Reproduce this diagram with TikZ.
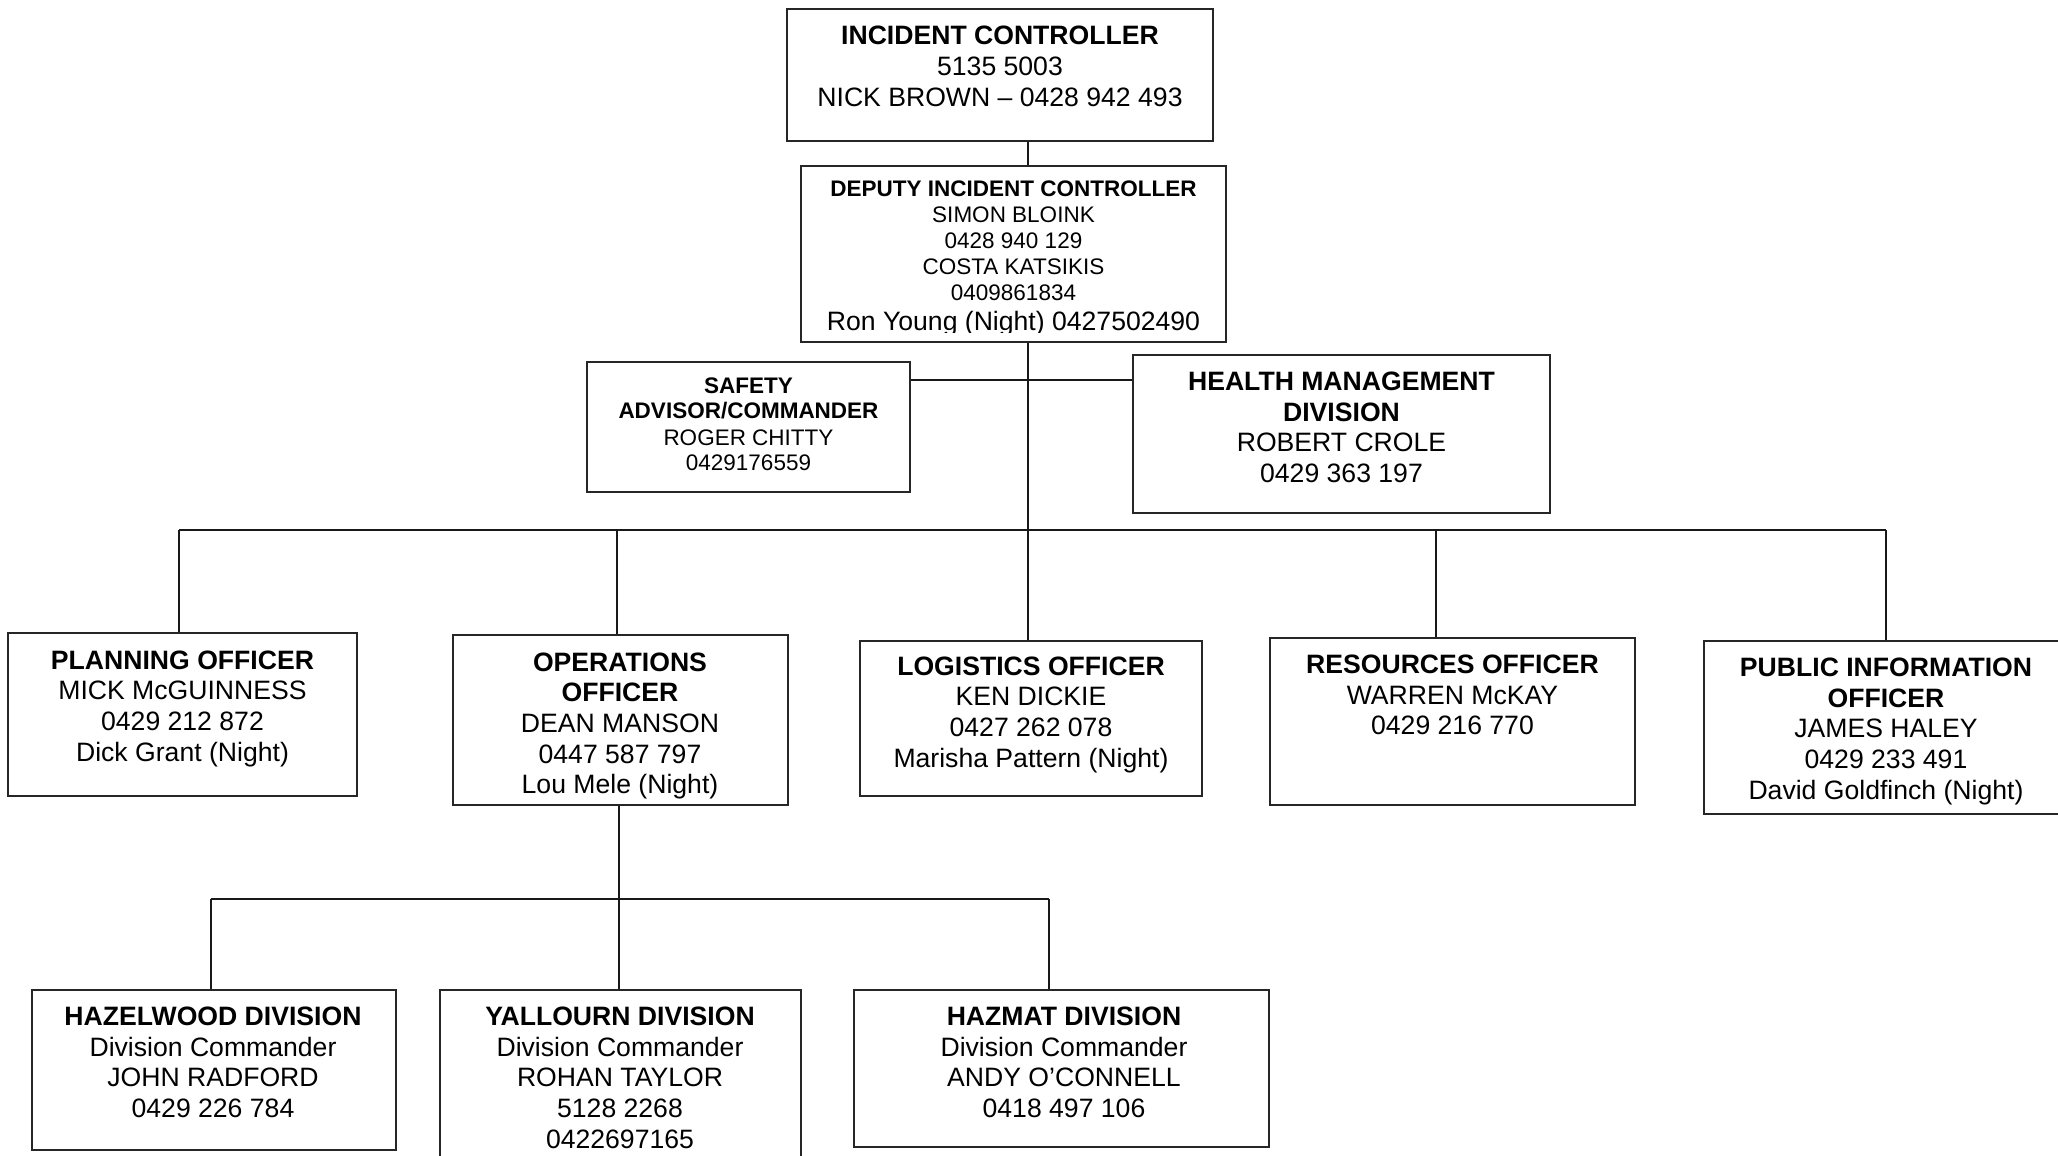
\documentclass[tikz,border=0pt]{standalone}
\usepackage{fontspec}
\setmainfont{Liberation Sans}
\usetikzlibrary{fit}
\begin{document}
\begin{tikzpicture}[x=0.5pt,y=-0.5pt,
  orgbox/.style={draw=black!85,line width=1pt,inner sep=0pt,rectangle},
  link/.style={draw=black!90,line width=1pt},
  bus/.style={draw=black!90,line width=1.2pt},
  bigtxt/.style={font=\fontsize{13.3}{15.35}\selectfont,inner sep=0pt,anchor=base},
  smalltxt/.style={font=\fontsize{11.25}{13}\selectfont,inner sep=0pt,anchor=base}]
\useasboundingbox (0,0) rectangle (2058,1156);

% boxes
\node[orgbox,fit={(787,9) (1213,141)}] (ic) {};
\node[orgbox,fit={(801,166) (1226,342)}] (dep) {};
\node[orgbox,fit={(587,362) (910,492)}] (saf) {};
\node[orgbox,fit={(1133,355) (1550,513)}] (hm) {};
\node[orgbox,fit={(8,633) (357,796)}] (plan) {};
\node[orgbox,fit={(453,635) (788,805)}] (ops) {};
\node[orgbox,fit={(860,641) (1202,796)}] (log) {};
\node[orgbox,fit={(1270,638) (1635,805)}] (res) {};
\node[orgbox,fit={(1704,641) (2070,814)}] (pub) {};
\node[orgbox,fit={(32,990) (396,1150)}] (haz) {};
\node[orgbox,fit={(440,990) (801,1175)}] (yal) {};
\node[orgbox,fit={(854,990) (1269,1147)}] (hzm) {};

% texts
\node[bigtxt] (ic-t) at (1000,45) {\begin{tabular}[t]{@{}c@{}}\textbf{INCIDENT CONTROLLER}\\5135 5003\\NICK BROWN – 0428 942 493\end{tabular}};
\node[smalltxt] (dep-t) at (1013.5,197) {\begin{tabular}[t]{@{}c@{}}\textbf{DEPUTY INCIDENT CONTROLLER}\\SIMON BLOINK\\0428 940 129\\COSTA KATSIKIS\\0409861834\end{tabular}};
\begin{scope}
\clip (801,166) rectangle (1226,332.5);
\node[bigtxt] (dep-n) at (1013.5,330.5) {Ron Young (Night) 0427502490};
\end{scope}
\node[smalltxt] (saf-t) at (748.5,393) {\begin{tabular}[t]{@{}c@{}}\textbf{SAFETY}\\\textbf{ADVISOR/COMMANDER}\\ROGER CHITTY\\0429176559\end{tabular}};
\node[bigtxt] (hm-t) at (1341.5,390.5) {\begin{tabular}[t]{@{}c@{}}\textbf{HEALTH MANAGEMENT}\\\textbf{DIVISION}\\ROBERT CROLE\\0429 363 197\end{tabular}};
\node[bigtxt] (plan-t) at (182.5,669) {\begin{tabular}[t]{@{}c@{}}\textbf{PLANNING OFFICER}\\MICK McGUINNESS\\0429 212 872\\Dick Grant (Night)\end{tabular}};
\node[bigtxt] (ops-t) at (620,671) {\begin{tabular}[t]{@{}c@{}}\textbf{OPERATIONS}\\\textbf{OFFICER}\\DEAN MANSON\\0447 587 797\\Lou Mele (Night)\end{tabular}};
\node[bigtxt] (log-t) at (1031,675) {\begin{tabular}[t]{@{}c@{}}\textbf{LOGISTICS OFFICER}\\KEN DICKIE\\0427 262 078\\Marisha Pattern (Night)\end{tabular}};
\node[bigtxt] (res-t) at (1452.5,673.5) {\begin{tabular}[t]{@{}c@{}}\textbf{RESOURCES OFFICER}\\WARREN McKAY\\0429 216 770\end{tabular}};
\node[bigtxt] (pub-t) at (1886,676.5) {\begin{tabular}[t]{@{}c@{}}\textbf{PUBLIC INFORMATION}\\\textbf{OFFICER}\\JAMES HALEY\\0429 233 491\\David Goldfinch (Night)\end{tabular}};
\node[bigtxt] (haz-t) at (213,1025.5) {\begin{tabular}[t]{@{}c@{}}\textbf{HAZELWOOD DIVISION}\\Division Commander\\JOHN RADFORD\\0429 226 784\end{tabular}};
\node[bigtxt] (yal-t) at (620,1025.5) {\begin{tabular}[t]{@{}c@{}}\textbf{YALLOURN DIVISION}\\Division Commander\\ROHAN TAYLOR\\5128 2268\\0422697165\end{tabular}};
\node[bigtxt] (hzm-t) at (1064,1025.5) {\begin{tabular}[t]{@{}c@{}}\textbf{HAZMAT DIVISION}\\Division Commander\\ANDY O’CONNELL\\0418 497 106\end{tabular}};

% connector coordinates
\coordinate (sp) at (1028,530);
\coordinate (sh) at (1028,380);
\coordinate (bL) at (179,530);
\coordinate (bO) at (617,530);
\coordinate (bR) at (1436,530);
\coordinate (bP) at (1886,530);
\coordinate (lo) at (619,899);
\coordinate (lL) at (211,899);
\coordinate (lR) at (1049,899);

% connectors
\draw[link] (ic.south -| sp) -- (dep.north -| sp);
\draw[link] (dep.south -| sp) -- (sp);
\draw[link] (saf.east |- sh) -- (hm.west |- sh);
\draw[bus] (bL) -- (bP);
\draw[link] (bL) -- (bL |- plan.north);
\draw[link] (bO) -- (bO |- ops.north);
\draw[link] (sp) -- (sp |- log.north);
\draw[link] (bR) -- (bR |- res.north);
\draw[link] (bP) -- (bP |- pub.north);
\draw[link] (ops.south -| lo) -- (lo);
\draw[bus] (lL) -- (lR);
\draw[link] (lL) -- (lL |- haz.north);
\draw[link] (lo) -- (lo |- yal.north);
\draw[link] (lR) -- (lR |- hzm.north);
\end{tikzpicture}
\end{document}
